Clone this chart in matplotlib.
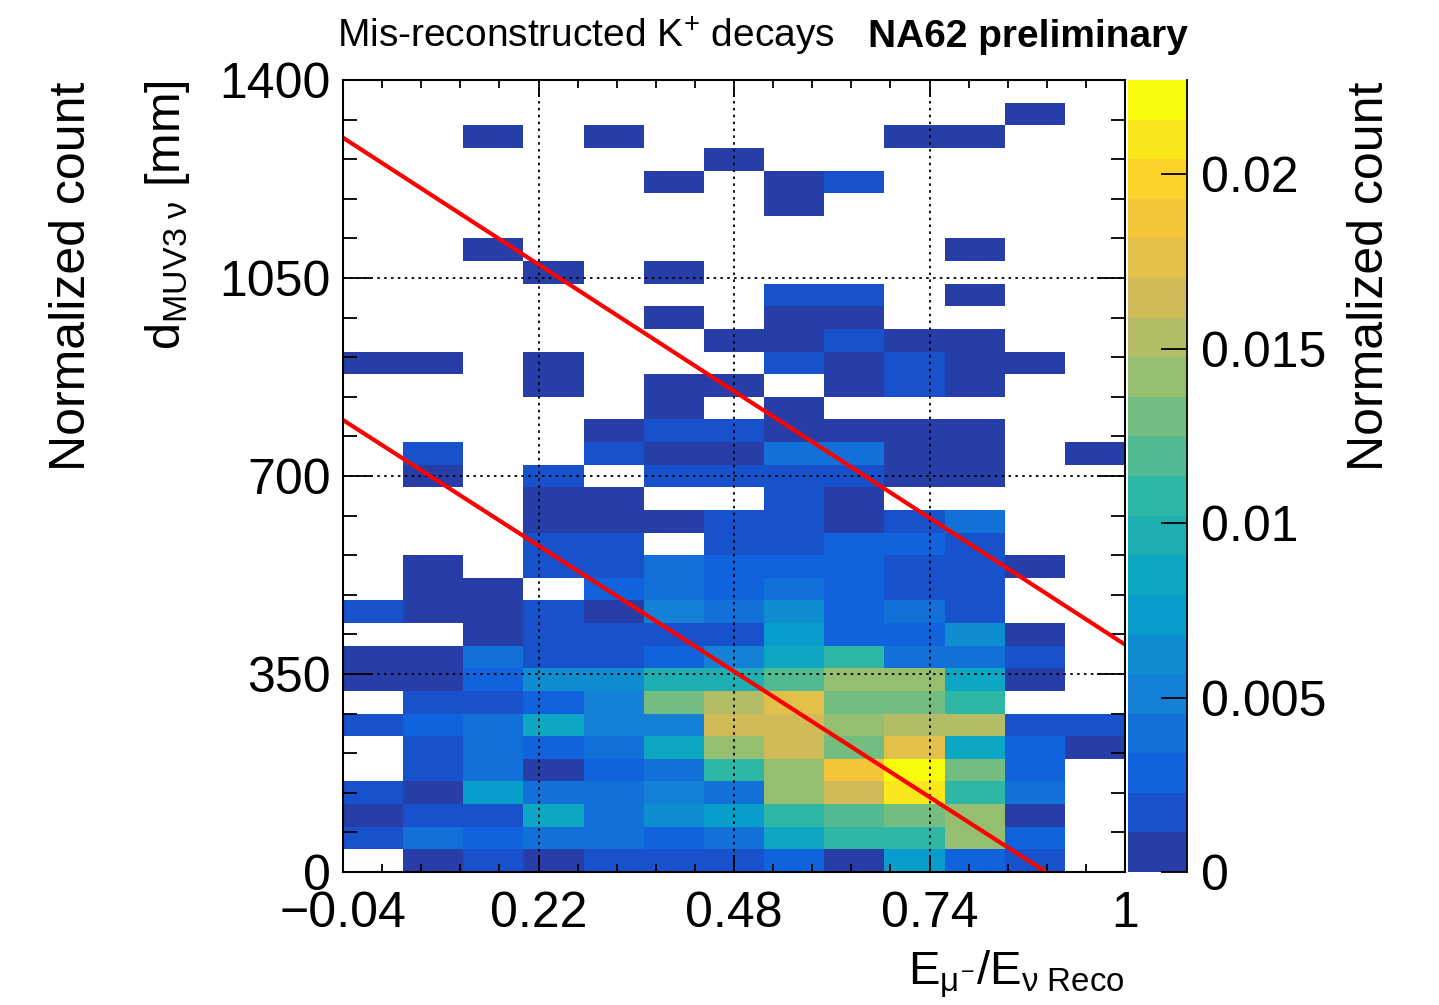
import numpy as np
import matplotlib
matplotlib.use("Agg")
import matplotlib.pyplot as plt
from matplotlib.colors import LinearSegmentedColormap, ListedColormap, BoundaryNorm
from matplotlib.ticker import AutoMinorLocator
from matplotlib.lines import Line2D

plt.rcParams['font.family'] = ['Liberation Sans', 'DejaVu Sans']
plt.rcParams['mathtext.fontset'] = 'custom'
plt.rcParams['mathtext.rm'] = 'Liberation Sans'
plt.rcParams['mathtext.it'] = 'Liberation Sans'
plt.rcParams['mathtext.bf'] = 'Liberation Sans:bold'

# ---- histogram binning ------------------------------------------------------
x_edges = np.linspace(-0.04, 1.0, 14)      # E_mu / E_nu (13 bins)
y_edges = np.linspace(0.0, 1400.0, 36)     # d_MUV3-nu in mm (35 bins of 40 mm)

# normalized counts in units of 1e-3, rows listed from the top (1360-1400 mm)
# down to the bottom (0-40 mm); 13 columns from x=-0.04 to x=1
counts_e3 = [
    [0,   0,   0,   0,   0,   0,    0,    0,    0,    0,    0,    0,   0],    # 1360
    [0,   0,   0,   0,   0,   0,    0,    0,    0,    0,    0,    0.4, 0],    # 1320
    [0,   0,   0.4, 0,   0.4, 0,    0,    0,    0,    0.4,  0.4,  0,   0],    # 1280
    [0,   0,   0,   0,   0,   0,    0.4,  0,    0,    0,    0,    0,   0],    # 1240
    [0,   0,   0,   0,   0,   0.4,  0,    0.4,  1.7,  0,    0,    0,   0],    # 1200
    [0,   0,   0,   0,   0,   0,    0,    0.4,  0,    0,    0,    0,   0],    # 1160
    [0,   0,   0,   0,   0,   0,    0,    0,    0,    0,    0,    0,   0],    # 1120
    [0,   0,   0.4, 0,   0,   0,    0,    0,    0,    0,    0.4,  0,   0],    # 1080
    [0,   0,   0,   0.4, 0,   0.4,  0,    0,    0,    0,    0,    0,   0],    # 1040
    [0,   0,   0,   0,   0,   0,    0,    1.7,  1.7,  0,    0.4,  0,   0],    # 1000
    [0,   0,   0,   0,   0,   0.4,  0,    0.4,  0.4,  0,    0,    0,   0],    # 960
    [0,   0,   0,   0,   0,   0,    0.4,  0.4,  1.7,  0.4,  0.4,  0,   0],    # 920
    [0.4, 0.4, 0,   0.4, 0,   0,    0,    1.7,  0.4,  1.7,  0.4,  0.4, 0],    # 880
    [0,   0,   0,   0.4, 0,   0.4,  0.4,  0,    0.4,  1.7,  0.4,  0,   0],    # 840
    [0,   0,   0,   0,   0,   0.4,  0,    0.4,  0,    0,    0,    0,   0],    # 800
    [0,   0,   0,   0,   0.4, 1.7,  1.7,  0.4,  0.4,  0.4,  0.4,  0,   0],    # 760
    [0,   1.7, 0,   0,   1.7, 0.4,  0.4,  4.5,  4.5,  0.4,  0.4,  0,   0.4],  # 720
    [0,   0.4, 0,   1.7, 0,   1.7,  1.7,  1.7,  1.7,  0.4,  0.4,  0,   0],    # 680
    [0,   0,   0,   0.4, 0.4, 0,    0,    1.7,  0.4,  0,    0,    0,   0],    # 640
    [0,   0,   0,   0.4, 0.4, 0.4,  1.7,  1.7,  0.4,  1.7,  4.5,  0,   0],    # 600
    [0,   0,   0,   1.7, 1.7, 0,    1.7,  1.7,  2.8,  2.8,  1.7,  0,   0],    # 560
    [0,   0.4, 0,   1.7, 1.7, 4.0,  2.8,  2.8,  2.8,  1.7,  1.7,  0.4, 0],    # 520
    [0,   0.4, 0.4, 0,   2.8, 4.0,  2.8,  4.0,  2.8,  1.7,  1.7,  0,   0],    # 480
    [1.7, 0.4, 0.4, 1.7, 0.4, 5.1,  4.0,  6.2,  3.2,  4.0,  1.7,  0,   0],    # 440
    [0,   0,   0.4, 2.2, 2.2, 2.2,  2.2,  7.4,  2.8,  2.8,  6.2,  0.4, 0],    # 400
    [0.4, 0.4, 4.0, 1.7, 1.7, 2.8,  5.1,  8.5,  10.8, 4.0,  4.0,  1.7, 0],    # 360
    [0.4, 0.4, 2.8, 6.2, 6.2, 9.6,  9.6,  11.9, 14.2, 14.2, 8.5,  0.4, 0],    # 320
    [0,   1.7, 1.7, 2.8, 5.1, 13.1, 14.8, 17.6, 13.1, 13.1, 10.8, 0,   0],    # 280
    [1.7, 2.8, 4.0, 8.5, 5.1, 5.1,  16.5, 16.5, 14.2, 15.3, 15.3, 1.7, 1.7],  # 240
    [0,   1.7, 4.0, 2.8, 4.5, 9.0,  14.2, 16.5, 13.1, 17.6, 8.5,  2.8, 0.4],  # 200
    [0,   1.7, 4.0, 0.4, 2.8, 4.0,  10.8, 14.2, 18.7, 22.6, 13.1, 2.8, 0],    # 160
    [1.7, 0.4, 7.4, 4.5, 4.5, 5.1,  4.0,  14.2, 16.5, 21.0, 11.3, 4.0, 0],    # 120
    [0.4, 2.2, 2.2, 8.5, 4.0, 6.8,  7.4,  11.3, 11.9, 13.1, 14.2, 0.4, 0],    # 80
    [1.7, 4.5, 2.8, 4.5, 4.5, 2.8,  4.3,  8.5,  10.8, 10.8, 14.2, 2.8, 0],    # 40
    [0,   0.4, 2.0, 0.4, 2.0, 2.0,  1.7,  2.8,  0.4,  7.4,  2.8,  1.7, 0],    # 0
]

# selection cut lines (x, y in mm)
upper_cut_x = [-0.04, 1.0]
upper_cut_y = [1298.0, 402.0]
lower_cut_x = [-0.04, 0.895]
lower_cut_y = [799.0, 0.0]

x_ticks = [-0.04, 0.22, 0.48, 0.74, 1.0]
x_tick_labels = ['\u22120.04', '0.22', '0.48', '0.74', '1']
y_ticks = [0, 350, 700, 1050, 1400]
y_tick_labels = ['0', '350', '700', '1050', '1400']
z_ticks = [0, 0.005, 0.01, 0.015, 0.02]
z_tick_labels = ['0', '0.005', '0.01', '0.015', '0.02']
z_max = 0.0227

# ---- ROOT "bird" palette with 20 contour levels ----------------------------
bird_stops = [0.0, 0.125, 0.25, 0.375, 0.5, 0.625, 0.75, 0.875, 1.0]
bird_r = [0.2082, 0.0592, 0.0780, 0.0232, 0.1802, 0.5301, 0.8186, 0.9956, 0.9764]
bird_g = [0.1664, 0.3599, 0.5041, 0.6419, 0.7178, 0.7492, 0.7328, 0.7862, 0.9832]
bird_b = [0.5293, 0.8684, 0.8385, 0.7914, 0.6425, 0.4662, 0.3499, 0.1968, 0.0539]
bird = LinearSegmentedColormap.from_list(
    'bird', list(zip(bird_stops, zip(bird_r, bird_g, bird_b))), N=255)
n_levels = 20
lut_index = [min(int(0.01 + (k + 0.99) * 255 / n_levels), 254) for k in range(n_levels)]
level_colors = [bird(i) for i in lut_index]
cmap = ListedColormap(level_colors)
cmap.set_over(level_colors[-1])
cmap.set_bad((1, 1, 1, 0))
norm = BoundaryNorm(np.linspace(0.0, z_max, n_levels + 1), n_levels)

z = np.array(counts_e3, dtype=float)[::-1] * 1e-3
z = np.ma.masked_where(z <= 0, z)

# ---- figure ----------------------------------------------------------------
W, H = 1439, 1005
fig = plt.figure(figsize=(W / 100, H / 100), dpi=100)

def fx(px):
    return px / W

def fy(py):
    return 1.0 - py / H

ax_l, ax_r, ax_t, ax_b = 343, 1125, 80, 872
ax = fig.add_axes([fx(ax_l), fy(ax_b), fx(ax_r - ax_l), (ax_b - ax_t) / H])
mesh = ax.pcolormesh(x_edges, y_edges, z, cmap=cmap, norm=norm,
                     edgecolors='face', linewidth=0, antialiased=False, zorder=1)

ax.plot(upper_cut_x, upper_cut_y, color='#ff0000', lw=3.0, zorder=4, solid_capstyle='butt')
ax.plot(lower_cut_x, lower_cut_y, color='#ff0000', lw=3.0, zorder=4, solid_capstyle='butt')

ax.set_xlim(-0.04, 1.0)
ax.set_ylim(0, 1400)
ax.set_xticks(x_ticks)
ax.set_xticklabels(x_tick_labels)
ax.set_yticks(y_ticks)
ax.set_yticklabels(y_tick_labels)
ax.xaxis.set_minor_locator(AutoMinorLocator(5))
ax.yaxis.set_minor_locator(AutoMinorLocator(5))

ax.set_axisbelow(False)
ax.grid(True, which='major', color='black', linestyle=(0, (1.4, 2.4)), linewidth=1.3, zorder=3)

ax.tick_params(axis='both', which='both', direction='in', top=True, right=True,
               width=1.3, colors='black', labelsize=36)
ax.tick_params(axis='x', which='major', length=12, pad=14)
ax.tick_params(axis='x', which='minor', length=6)
ax.tick_params(axis='y', which='major', length=20, pad=9)
ax.tick_params(axis='y', which='minor', length=10)
for s in ax.spines.values():
    s.set_linewidth(1.5)
    s.set_zorder(5)

# ---- colour scale ------------------------------------------------------------
cb_l, cb_r = 1128, 1187
cax = fig.add_axes([fx(cb_l), fy(ax_b), fx(cb_r - cb_l), (ax_b - ax_t) / H])
cb = fig.colorbar(mesh, cax=cax, ticks=z_ticks)
cb.set_ticklabels(z_tick_labels)
cb.outline.set_visible(False)
cax.add_line(Line2D([1, 1], [0, 1], transform=cax.transAxes, color='black',
                    lw=1.3, clip_on=False))
cax.tick_params(axis='y', which='major', direction='in', length=19, width=1.3,
                labelsize=36, pad=10, right=True, left=False)
cax.tick_params(axis='y', which='minor', length=0)

# ---- labels ------------------------------------------------------------------
fig.text(fx(1370), fy(82), 'Normalized count', rotation=90, ha='center', va='top', fontsize=36)
fig.text(fx(72), fy(82), 'Normalized count', rotation=90, ha='center', va='top', fontsize=36)
fig.text(fx(168), fy(80), r'$\mathrm{d}_{\mathrm{MUV3}\ \nu}$ [mm]', rotation=90,
         ha='center', va='top', fontsize=35)
fig.text(fx(1125), fy(1000), r'$\mathrm{E}_{\mu^{-}}/\mathrm{E}_{\nu\ \mathrm{Reco}}$',
         ha='right', va='bottom', fontsize=34)
fig.text(fx(337), fy(47), r'Mis-reconstructed K$^{+}$ decays', ha='left', va='baseline',
         fontsize=28)
fig.text(fx(868), fy(47), 'NA62 preliminary', ha='left', va='baseline', fontsize=28,
         fontweight='bold')

fig.savefig('out.png', dpi=100, facecolor='white')
